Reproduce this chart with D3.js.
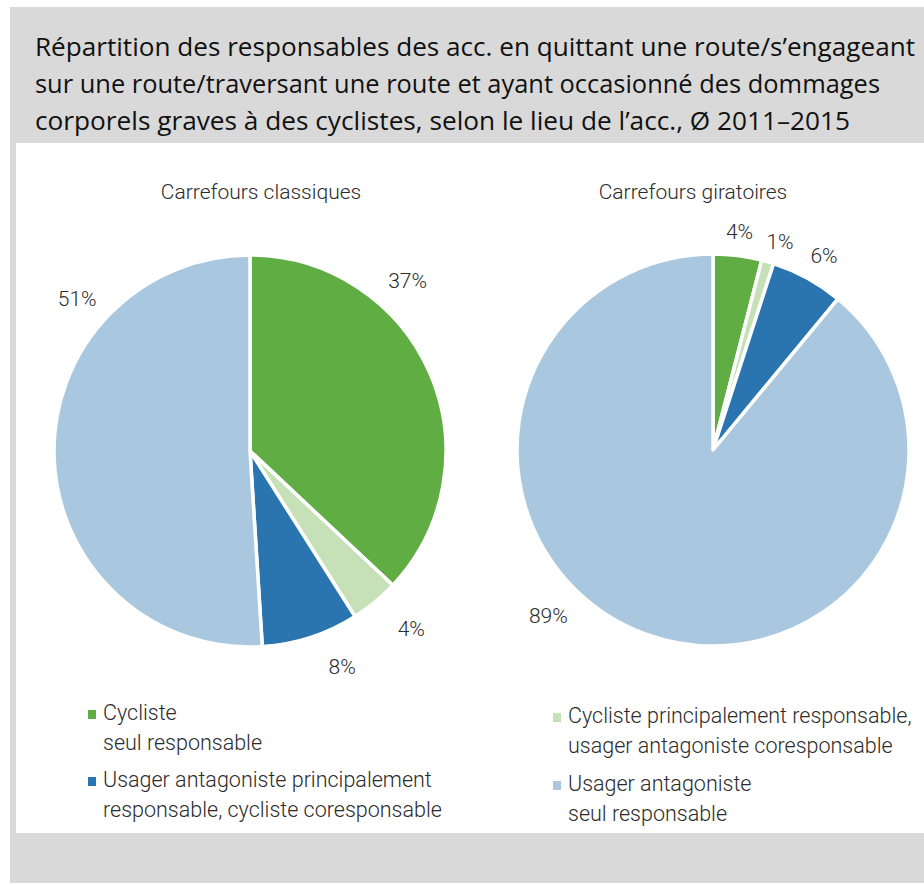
<!DOCTYPE html>
<html>
<head>
<meta charset="utf-8">
<script src="https://cdn.jsdelivr.net/npm/d3@7"></script>
<style>
  body { margin: 0; background: #fff; }
  text { font-family: Roboto, "Open Sans", sans-serif; fill: #2b2b2b; }
  .title { font-family: "Open Sans", "Noto Sans", sans-serif; font-size: 26px; fill: #111; }
  .sub { font-size: 21px; font-weight: 300; }
  .lbl { font-size: 21px; font-weight: 300; }
  .leg { font-size: 21.5px; font-weight: 300; }
</style>
</head>
<body>
<div id="chart"></div>
<script>
// data
var titleLines = [
  "Répartition des responsables des acc. en quittant une route/s’engageant",
  "sur une route/traversant une route et ayant occasionné des dommages",
  "corporels graves à des cyclistes, selon le lieu de l’acc., Ø 2011–2015"
];
var pieTitles = ["Carrefours classiques", "Carrefours giratoires"];
var categories = ["cycliste_seul", "cycliste_principal", "usager_principal", "usager_seul"];
var classiques = [37, 4, 8, 51];
var giratoires = [4, 1, 6, 89];
var legendLines = [
  ["Cycliste", "seul responsable"],
  ["Cycliste principalement responsable,", "usager antagoniste coresponsable"],
  ["Usager antagoniste principalement", "responsable, cycliste coresponsable"],
  ["Usager antagoniste", "seul responsable"]
];

var svgWidth = 924;
var svgHeight = 885;

var color = d3.scaleOrdinal()
  .domain(categories)
  .range(["#5fad43", "#c6e1b8", "#2a74b0", "#a9c8df"]);

var svg = d3.select("#chart")
  .append("svg")
  .attr("width", svgWidth)
  .attr("height", svgHeight);

// frame
svg.append("rect").attr("x", 10).attr("y", 7).attr("width", 914).attr("height", 876).attr("fill", "#d9d9d9");
svg.append("rect").attr("x", 16).attr("y", 143).attr("width", 908).attr("height", 690).attr("fill", "#fff");

// title
var titleWidths = [880, 845, 815];
titleLines.forEach(function(t, i) {
  svg.append("text")
    .attr("class", "title")
    .attr("x", 35)
    .attr("y", 56 + i * 37)
    .attr("textLength", titleWidths[i])
    .attr("lengthAdjust", "spacingAndGlyphs")
    .text(t);
});

// pies
var layouts = [
  { cx: 250, cy: 451, titleX: 261, labels: [[43, 231], [138, 241], [157, 236], [311, 229]] },
  { cx: 713, cy: 450, titleX: 693, labels: [[7, 218], [18, 217], [30, 222], [224.5, 235]] }
];
var pieData = [classiques, giratoires];
var radius = 196;

var pie = d3.pie().sort(null).value(function(d) { return d.value; });
var arc = d3.arc().innerRadius(0).outerRadius(radius);

pieData.forEach(function(values, p) {
  var lay = layouts[p];
  var rows = values.map(function(v, i) { return { key: categories[i], value: v }; });

  svg.append("text")
    .attr("class", "sub")
    .attr("x", lay.titleX)
    .attr("y", 193)
    .attr("text-anchor", "middle")
    .attr("dominant-baseline", "middle")
    .text(pieTitles[p]);

  var g = svg.append("g")
    .attr("transform", `translate(${lay.cx}, ${lay.cy})`);

  g.selectAll("path")
    .data(pie(rows))
    .enter()
    .append("path")
    .attr("d", arc)
    .attr("fill", function(d) { return color(d.data.key); })
    .attr("stroke", "#fff")
    .attr("stroke-width", 3.5)
    .attr("stroke-linejoin", "round");

  g.selectAll("text.lbl")
    .data(rows)
    .enter()
    .append("text")
    .attr("class", "lbl")
    .attr("x", function(d, i) { return lay.labels[i][1] * Math.sin(lay.labels[i][0] * Math.PI / 180); })
    .attr("y", function(d, i) { return -lay.labels[i][1] * Math.cos(lay.labels[i][0] * Math.PI / 180); })
    .attr("text-anchor", "middle")
    .attr("dominant-baseline", "middle")
    .text(function(d) { return d.value + "%"; });
});

// legend (two columns: left = 0,2 ; right = 1,3)
var legendPos = [
  { x: 88, y: 714 },
  { x: 553, y: 717 },
  { x: 88, y: 781 },
  { x: 553, y: 785 }
];
var legend = svg.selectAll("g.legend")
  .data(categories)
  .enter()
  .append("g")
  .attr("class", "legend")
  .attr("transform", function(d, i) { return `translate(${legendPos[i].x}, ${legendPos[i].y})`; });

legend.append("rect")
  .attr("x", 0)
  .attr("y", -4)
  .attr("width", 8)
  .attr("height", 9)
  .attr("fill", function(d) { return color(d); });

legend.each(function(d, i) {
  var el = d3.select(this);
  legendLines[i].forEach(function(line, j) {
    el.append("text")
      .attr("class", "leg")
      .attr("x", 15)
      .attr("y", j * 30)
      .attr("dominant-baseline", "middle")
      .text(line);
  });
});
</script>
</body>
</html>
